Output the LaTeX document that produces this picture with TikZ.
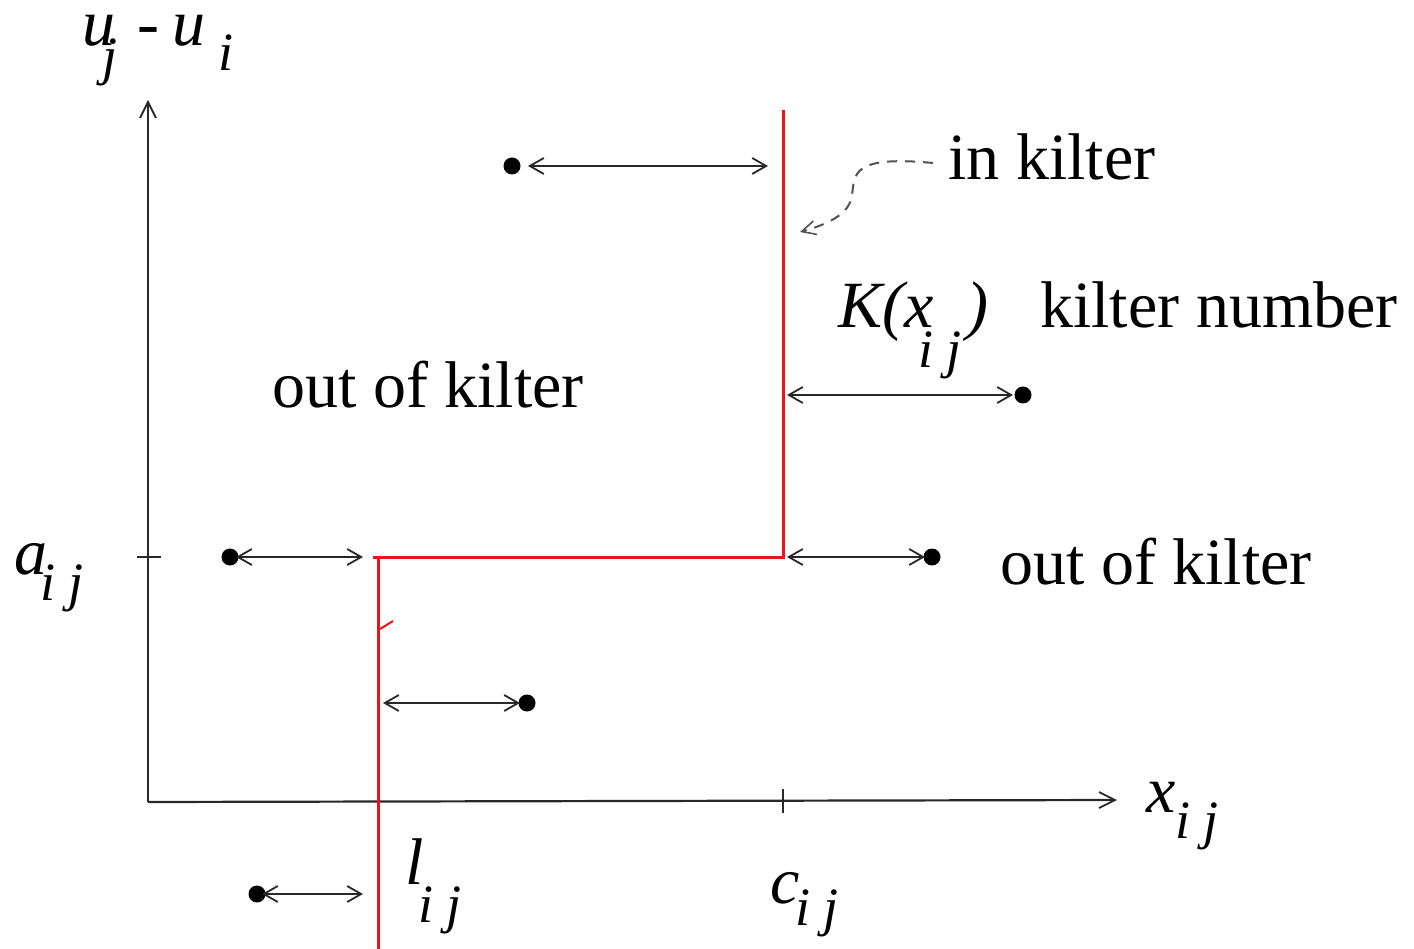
\documentclass[tikz,border=0pt]{standalone}
\usepackage{fontspec}
\setmainfont{Liberation Serif}
\usetikzlibrary{arrows.meta}
\definecolor{arr}{RGB}{40,40,40}
\definecolor{kred}{RGB}{235,20,20}
\tikzset{
  lbl/.style={anchor=base west,inner sep=0pt,font=\fontsize{66}{72}\selectfont},
  ilbl/.style={anchor=base west,inner sep=0pt,font=\fontsize{66}{72}\selectfont\itshape},
  slbl/.style={anchor=base west,inner sep=0pt,font=\fontsize{54}{60}\selectfont\itshape},
  dotnode/.style={circle,fill=black,inner sep=0pt,minimum size=17pt},
  dbl/.style={draw=arr,line width=2.2pt,{Straight Barb[length=14pt,width=16pt,line width=1.8pt]}-{Straight Barb[length=14pt,width=16pt,line width=1.8pt]}},
  axis/.style={draw=arr,line width=2.2pt,-{Straight Barb[length=16pt,width=16pt,line width=1.8pt]}},
  redline/.style={draw=kred,line width=3pt}
}
\begin{document}
\begin{tikzpicture}[x=1pt,y=-1pt]
\useasboundingbox (0,0) rectangle (1414,949);
% axes
\coordinate (O) at (148,802);
\coordinate (ytop) at (148,100);
\coordinate (xend) at (1117,800);
\draw[axis] (O) -- (ytop);
\draw[axis] (O) -- (xend);
\coordinate (ta1) at (137,557); \coordinate (ta2) at (161,557);
\draw[arr,line width=2.2pt] (ta1) -- (ta2);
\coordinate (tc1) at (783,789); \coordinate (tc2) at (783,813);
\draw[arr,line width=2.2pt] (tc1) -- (tc2);
% red kilter line
\coordinate (r0) at (378,949);
\coordinate (r1) at (378,557);
\coordinate (r1b) at (373,557);
\coordinate (r2) at (783,557);
\coordinate (r3) at (783,110);
\draw[redline] (r0) -- (r1);
\draw[redline] (r1b) -- (r2) -- (r3);
\coordinate (rt1) at (380,629); \coordinate (rt2) at (393,621);
\draw[draw=kred,line width=2pt] (rt1) -- (rt2);
% dots and arrows
\node[dotnode] (d1) at (512,166) {};
\coordinate (a1s) at (528,166); \coordinate (a1e) at (768,166);
\draw[dbl] (a1s) -- (a1e);
\node[dotnode] (d2) at (1023,395) {};
\coordinate (a2s) at (787,395); \coordinate (a2e) at (1013,395);
\draw[dbl] (a2s) -- (a2e);
\node[dotnode] (d3) at (230,557) {};
\coordinate (a3s) at (236,557); \coordinate (a3e) at (363,557);
\draw[dbl] (a3s) -- (a3e);
\node[dotnode] (d4) at (932,557) {};
\coordinate (a4s) at (787,557); \coordinate (a4e) at (925,557);
\draw[dbl] (a4s) -- (a4e);
\node[dotnode] (d5) at (527,703) {};
\coordinate (a5s) at (383,703); \coordinate (a5e) at (520,703);
\draw[dbl] (a5s) -- (a5e);
\node[dotnode] (d6) at (257,894) {};
\coordinate (a6s) at (262,894); \coordinate (a6e) at (363,894);
\draw[dbl] (a6s) -- (a6e);
% labels
\node[lbl] (ink) at (948,180) {in kilter};
\coordinate (cs) at (933,163);
\coordinate (ce) at (800,232);
\draw[draw=arr!80,line width=2pt,dash pattern=on 10pt off 8pt,-{Straight Barb[length=14pt,width=14pt,line width=1.6pt]}]
  (cs) .. controls (850,155) and (855,175) .. (852,195) .. controls (850,215) and (825,225) .. (ce);
\node[ilbl] (K) at (838,328) {K(x};
\node[slbl] (Kij) at (918,368) {i j};
\node[ilbl] (Kp) at (966,328) {)};
\node[lbl] (kn) at (1040,328) {kilter number};
\node[lbl] (ook1) at (272,408) {out of kilter};
\node[lbl] (ook2) at (1000,584) {out of kilter};
\node[ilbl] (a) at (14,574) {a};
\node[slbl] (aij) at (40,600) {i j};
\node[ilbl] (x) at (1146,812) {x};
\node[slbl] (xij) at (1175,838) {i j};
\node[ilbl] (l) at (405,884) {l};
\node[slbl] (lij) at (418,922) {i j};
\node[ilbl] (c) at (770,903) {c};
\node[slbl] (cij) at (795,925) {i j};
\node[ilbl,text height=0.5em] (u1) at (82,46) {u};
\node[slbl,text height=0.7em] (uj) at (102,75) {j};
\node[lbl,text height=0.5em] (minus) at (137,46) {-};
\node[ilbl,text height=0.5em] (u2) at (172,46) {u};
\node[slbl,text height=0.7em] (ui) at (218,71) {i};
\end{tikzpicture}
\end{document}
